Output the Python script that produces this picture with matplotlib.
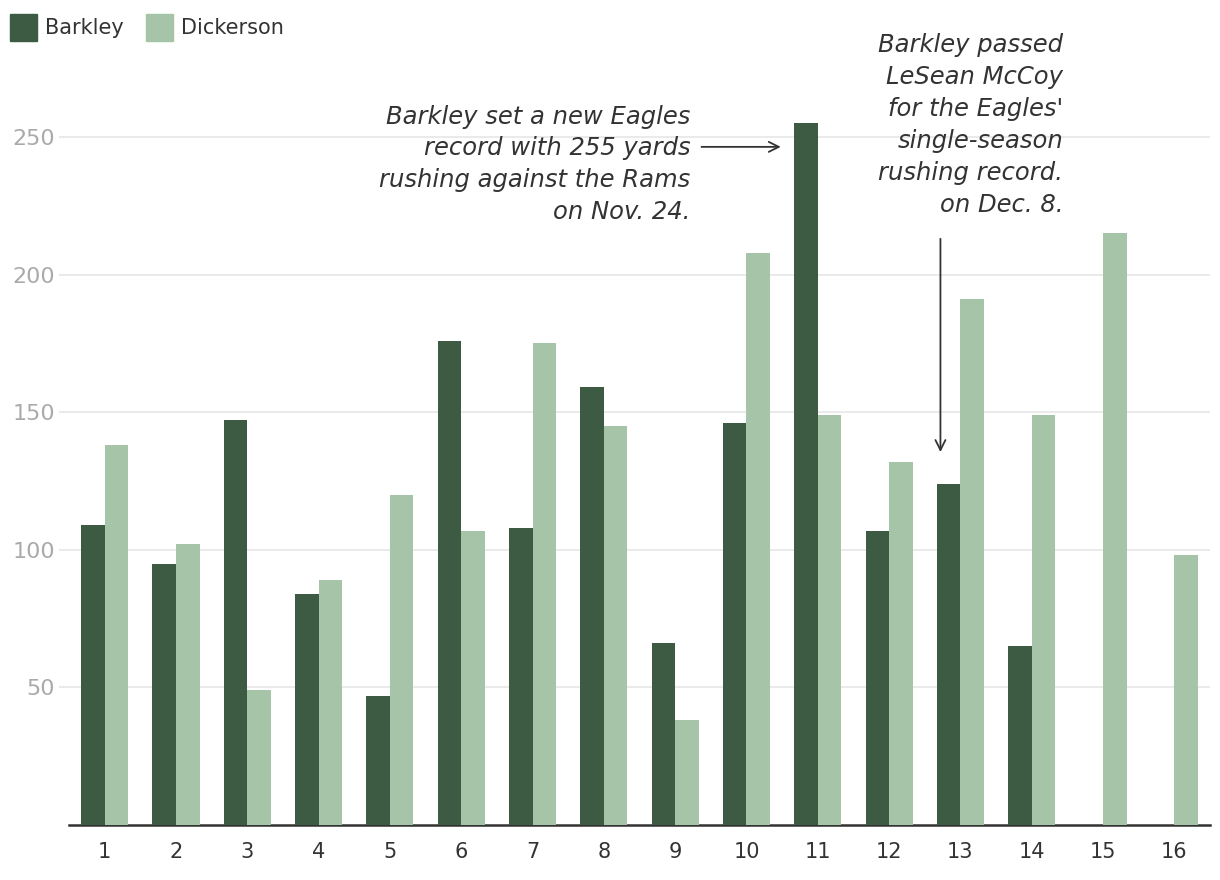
import matplotlib
matplotlib.use("Agg")
import matplotlib.pyplot as plt
import numpy as np

games = list(range(1, 17))
barkley = [109, 95, 147, 84, 47, 176, 108, 159, 66, 146, 255, 107, 124, 65, 0, 0]
dickerson = [138, 102, 49, 89, 120, 107, 175, 145, 38, 208, 149, 132, 191, 149, 215, 98]
yticks = [50, 100, 150, 200, 250]
series_names = ["Barkley", "Dickerson"]
colors = ["#3d5a43", "#a5c4a8"]

note1 = "Barkley set a new Eagles\nrecord with 255 yards\nrushing against the Rams\non Nov. 24."
note2 = "Barkley passed\nLeSean McCoy\nfor the Eagles'\nsingle-season\nrushing record.\non Dec. 8."

plt.rcParams['font.family'] = ['DejaVu Sans']

fig = plt.figure(figsize=(12.2, 8.8), dpi=100)
ax = fig.add_axes([69/1220, 55/880, 1141/1220, 770.6/880])

x = np.array(games, dtype=float)
w = 0.33
b_vals = np.array(barkley, dtype=float)
mask = b_vals > 0
ax.bar(x[mask] - w/2, b_vals[mask], width=w, color=colors[0], zorder=3)
ax.bar(x + w/2, dickerson, width=w, color=colors[1], zorder=3)

ax.set_xlim(0.5, 16.5)
ax.set_ylim(0, 280)
ax.set_yticks(yticks)
ax.set_xticks(games)
ax.set_xticklabels([str(g) for g in games])
ax.grid(axis='y', color='#e6e6e6', linewidth=1.2, zorder=0)
for s in ['top', 'right', 'left']:
    ax.spines[s].set_visible(False)
ax.spines['bottom'].set_color('#333333')
ax.spines['bottom'].set_linewidth(1.8)
ax.tick_params(axis='y', length=7, color='#e6e6e6', width=1.2, labelsize=16,
               labelcolor='#aaaaaa', pad=3)
ax.tick_params(axis='x', length=0, labelsize=15, labelcolor='#333333', pad=12)

# legend
for i, (name, c) in enumerate(zip(series_names, colors)):
    x0 = [10, 146][i]
    fig.patches.append(plt.Rectangle((x0/1220, 1 - 41/880), 27/1220, 27/880,
                                     transform=fig.transFigure, color=c, figure=fig))
    fig.text((x0 + 35)/1220, 1 - 28/880, name, fontsize=15, color='#333333',
             va='center', ha='left')

# annotations
ax.text(9.21, 240, note1, ha='right', va='center', fontsize=17.5, style='italic',
        color='#333333', linespacing=1.42, clip_on=False)
ax.annotate("", xy=(10.52, 246.4), xytext=(9.33, 246.4),
            arrowprops=dict(arrowstyle='->', color='#333333', lw=1.3,
                            mutation_scale=18), annotation_clip=False)
ax.text(14.44, 254.4, note2, ha='right', va='center', fontsize=17.5, style='italic',
        color='#333333', linespacing=1.42, clip_on=False)
ax.annotate("", xy=(12.72, 134.5), xytext=(12.72, 214),
            arrowprops=dict(arrowstyle='->', color='#333333', lw=1.3,
                            mutation_scale=18), annotation_clip=False)

fig.savefig("out.png", dpi=100)
